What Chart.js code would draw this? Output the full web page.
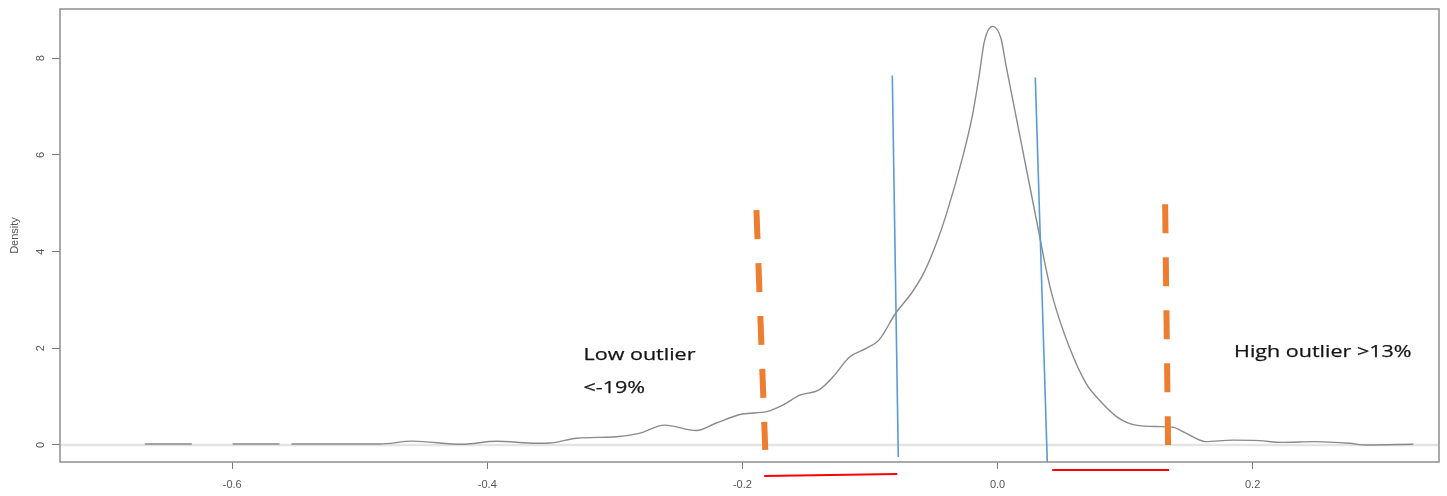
<!DOCTYPE html>
<html><head><meta charset="utf-8">
<script src="https://cdn.jsdelivr.net/npm/chart.js@4.4.1/dist/chart.umd.min.js"></script>
<style>html,body{margin:0;padding:0;background:#fff;overflow:hidden}</style>
</head><body>
<canvas id="c" width="1447" height="496"></canvas>
<script>
// ---- data ----
const densityX = [-0.6685,-0.6317,-0.615,-0.5997,-0.5629,-0.558,-0.5535,-0.4846,-0.4587,-0.4195,-0.393,-0.3612,-0.351,-0.33,-0.299,-0.281,-0.261,-0.236,-0.221,-0.2,-0.181,-0.168,-0.155,-0.140,-0.129,-0.116,-0.103,-0.093,-0.080,-0.0667,-0.058,-0.048,-0.0404,-0.0274,-0.0196,-0.0143,-0.0104,-0.0039,0.0027,0.0066,0.0118,0.0170,0.0248,0.0327,0.0379,0.0431,0.0562,0.0693,0.0823,0.0953,0.1084,0.1267,0.137,0.148,0.163,0.184,0.205,0.223,0.249,0.276,0.289,0.326];
const densityY = [0.02,0.02,null,0.02,0.02,null,0.02,0.02,0.08,0.015,0.076,0.035,0.04,0.14,0.17,0.24,0.41,0.30,0.45,0.64,0.69,0.83,1.03,1.14,1.41,1.82,2.0,2.17,2.72,3.17,3.55,4.17,4.75,5.95,6.83,7.66,8.34,8.66,8.41,7.86,7.16,6.46,5.42,4.36,3.66,3.07,2.03,1.28,0.86,0.55,0.41,0.38,0.37,0.24,0.07,0.10,0.09,0.055,0.07,0.035,0.0,0.015];
const xTickValues = [-0.6,-0.4,-0.2,0.0,0.2];
const yTickValues = [0,2,4,6,8];
const zeroLineX = [-0.735,0.3461], zeroLineY = [0,0];
const lowOrangeX = [-0.1890,-0.1821], lowOrangeY = [4.86,-0.10];
const highOrangeX = [0.1314,0.1337], highOrangeY = [4.98,0.0];
const lowBlueX = [-0.0825,-0.0778], lowBlueY = [7.645,-0.248];
const highBlueX = [0.0296,0.0390], highBlueY = [7.603,-0.351];
const lowRedX = [-0.1829,-0.0786], lowRedY = [-0.640,-0.599];
const highRedX = [0.0429,0.1345], highRedY = [-0.517,-0.517];
const annotationTexts = ['Low outlier','<-19%','High outlier >13%'];
const annotationX = [-0.3246,-0.3246,0.1854];
const annotationY = [1.76,1.076,1.82];
const yAxisTitle = 'Density';

const pts = (xs, ys) => xs.map((x, i) => ({x: x, y: ys[i]}));

const overlay = {
  id: 'overlay',
  afterDraw(chart) {
    const ctx = chart.ctx, a = chart.chartArea, xs = chart.scales.x, ys = chart.scales.y;
    ctx.save();
    // frame
    ctx.strokeStyle = '#959595'; ctx.lineWidth = 1.6;
    ctx.strokeRect(a.left, a.top, a.right - a.left, a.bottom - a.top);
    // rotated y tick labels
    ctx.fillStyle = '#555'; ctx.font = '11px "Liberation Sans"';
    ctx.textAlign = 'center'; ctx.textBaseline = 'middle';
    yTickValues.forEach(v => {
      ctx.save(); ctx.translate(a.left - 19, ys.getPixelForValue(v)); ctx.rotate(-Math.PI/2);
      ctx.fillText(String(v), 0, 0); ctx.restore();
    });
    ctx.save(); ctx.translate(15, (a.top + a.bottom)/2); ctx.rotate(-Math.PI/2);
    ctx.fillText(yAxisTitle, 0, 0); ctx.restore();
    // annotations
    ctx.fillStyle = '#151515'; ctx.strokeStyle = '#151515'; ctx.lineWidth = 0.25;
    ctx.font = '17px "Open Sans"';
    ctx.textAlign = 'left'; ctx.textBaseline = 'alphabetic';
    const sx = 112 / ctx.measureText(annotationTexts[0]).width;
    annotationTexts.forEach((t, i) => {
      ctx.save(); ctx.translate(xs.getPixelForValue(annotationX[i]), ys.getPixelForValue(annotationY[i]));
      ctx.scale(sx, 1); ctx.fillText(t, 0, 0); ctx.strokeText(t, 0, 0); ctx.restore();
    });
    ctx.restore();
  }
};

new Chart(document.getElementById('c'), {
  type: 'line',
  data: { datasets: [
    {data: pts(zeroLineX, zeroLineY), borderColor: '#e4e4e4', borderWidth: 2.5, order: 10},
    {data: pts(densityX, densityY), borderColor: '#8a8a8a', borderWidth: 1.4, cubicInterpolationMode: 'monotone', spanGaps: false, order: 5},
    {data: pts(lowBlueX, lowBlueY), borderColor: '#5b9bd5', borderWidth: 1.6, order: 3},
    {data: pts(highBlueX, highBlueY), borderColor: '#5b9bd5', borderWidth: 1.6, order: 3, clip: false},
    {data: pts(lowOrangeX, lowOrangeY), borderColor: '#ed7d31', borderWidth: 6, borderDash: [29,24], order: 2},
    {data: pts(highOrangeX, highOrangeY), borderColor: '#ed7d31', borderWidth: 6, borderDash: [29,24], order: 2},
    {data: pts(lowRedX, lowRedY), borderColor: '#ff0000', borderWidth: 2, order: 1, clip: false},
    {data: pts(highRedX, highRedY), borderColor: '#ff0000', borderWidth: 2, order: 1, clip: false}
  ]},
  options: {
    responsive: false, animation: false,
    layout: {padding: {left: 0, right: 8, top: 9, bottom: 0}},
    plugins: {legend: {display: false}, tooltip: {enabled: false}},
    elements: {point: {radius: 0}, line: {tension: 0}},
    scales: {
      x: {
        type: 'linear', min: -0.735, max: 0.3461,
        afterBuildTicks: s => { s.ticks = xTickValues.map(v => ({value: v})); },
        afterFit: s => { s.height = 34; },
        grid: {display: true, drawOnChartArea: false, drawTicks: true, tickLength: 7, color: '#7a7a7a'},
        border: {display: false},
        ticks: {font: {family: 'Liberation Sans', size: 11}, color: '#555', padding: 9, maxRotation: 0, autoSkip: false,
                callback: v => Number(v).toFixed(1)}
      },
      y: {
        type: 'linear', min: -0.352, max: 9.02,
        afterBuildTicks: s => { s.ticks = yTickValues.map(v => ({value: v})); },
        afterFit: s => { s.width = 60; },
        grid: {display: true, drawOnChartArea: false, drawTicks: true, tickLength: 8, color: '#7a7a7a'},
        border: {display: false},
        ticks: {display: false}
      }
    }
  },
  plugins: [overlay]
});
</script>
</body></html>
